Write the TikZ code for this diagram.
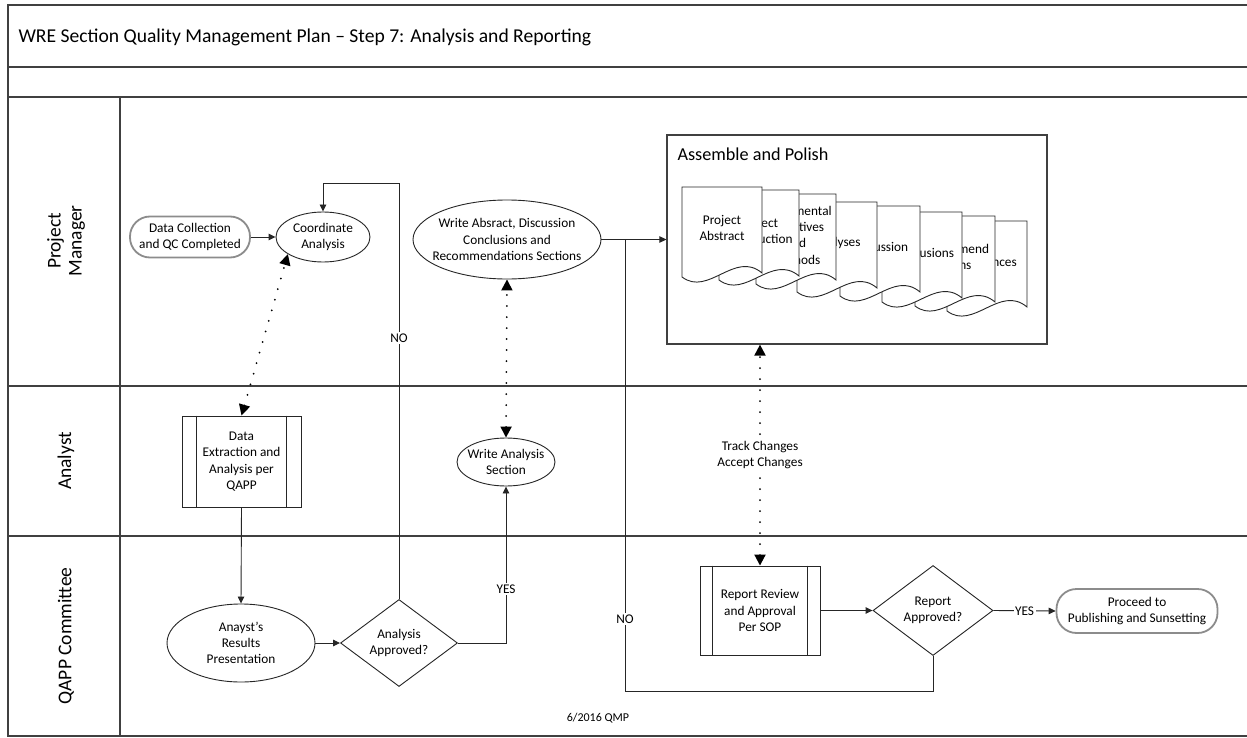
\documentclass[tikz,border=0pt]{standalone}
\usepackage{fontspec}
\setmainfont{Carlito}
\usetikzlibrary{shapes.geometric,arrows.meta,calc}

% One report page with a wavy lower edge: #1 left x, #2 top y, #3 width, #4 height, #5 name, #6 text
\newcommand\reportpage[6]{%
  \draw[pageline] (#1+#3,#2) -- (#1+#3,#2+#4-4)
    .. controls (#1+0.66*#3,#2+#4-27) and (#1+0.33*#3,#2+#4+20) .. (#1,#2+#4)
    -- (#1,#2) -- cycle;
  \node[pagetext, text width=#3-4pt] (#5) at (#1+0.5*#3,#2+41) {#6};
}

\begin{document}
\begin{tikzpicture}[x=1pt,y=-1pt,
  every node/.style={font=\fontsize{13.3}{16.3}\selectfont},
  lanerule/.style={draw=black!75, line width=1.3pt},
  box/.style={draw=black!85, line width=0.9pt, fill=white, align=center, inner sep=2pt},
  oval/.style={box, ellipse, inner ysep=0pt, inner xsep=-12pt},
  decision/.style={box, diamond, inner sep=0pt, aspect=1.35},
  terminal/.style={box, draw=black!45, line width=1.8pt, rounded corners=20pt},
  procbox/.style={box},
  pageline/.style={draw=black!85, line width=0.9pt, fill=white},
  pagetext/.style={align=center, inner sep=0pt},
  flow/.style={draw=black!85, line width=0.9pt, -{Triangle[length=7pt,width=6.5pt]}},
  link/.style={draw=black!85, line width=0.9pt},
  dotlink/.style={draw=black, line width=2pt, line cap=round, dash pattern=on 0pt off 11pt,
    {Triangle[length=11pt,width=11pt]}-{Triangle[length=11pt,width=11pt]}},
  tag/.style={fill=white, inner sep=1.5pt},
  lanelabel/.style={rotate=90, align=center, font=\fontsize{19.5}{21}\selectfont},
]
\useasboundingbox (0,0) rectangle (1247,738);
\fill[white] (0,0) rectangle (1247,738);

% frame, header rows and swimlanes
\draw[lanerule] (1247,5) -- (8,5) -- (8,736) -- (1247,736);
\draw[lanerule] (8,67) -- (1247,67);
\draw[lanerule] (8,97) -- (1247,97);
\draw[lanerule] (8,386) -- (1247,386);
\draw[lanerule] (8,536) -- (1247,536);
\draw[lanerule] (120,97) -- (120,736);

\node[anchor=west, font=\fontsize{19.6}{22}\selectfont] (title) at (15,37)
  {WRE Section Quality Management Plan -- Step 7: Analysis and Reporting};

\node[lanelabel] (lanePM) at (66,241) {Project\\Manager};
\node[lanelabel] (laneAN) at (66,461) {Analyst};
\node[lanelabel] (laneQC) at (66,636) {QAPP Committee};

% Project Manager lane
\node[terminal, minimum width=120pt, minimum height=41pt] (dcq) at (190,237)
  {Data Collection\\and QC Completed};
\node[oval, minimum width=94pt, minimum height=50pt] (coord) at (323,237)
  {Coordinate\\Analysis};
\node[oval, inner xsep=-25pt, minimum width=188pt, minimum height=79pt] (wabs) at (507,239.5)
  {Write Absract, Discussion\\Conclusions and\\Recommendations Sections};

% assembled report
\node[draw=black!75, line width=1.2pt, minimum width=380pt, minimum height=209pt,
  inner sep=0pt] (asm) at (857,239.5) {};
\node[anchor=west, font=\fontsize{18.2}{20}\selectfont] (asmtitle) at (674,154)
  {Assemble and Polish};

\reportpage{947}{221}{80}{90}{doc8}{References}
\reportpage{915}{216}{80}{90}{doc7}{Recommend\\ations}
\reportpage{882}{212}{80}{90}{doc6}{Conclusions}
\reportpage{840}{206}{80}{90}{doc5}{Discussion}
\reportpage{797}{202}{80}{90}{doc4}{Analyses}
\reportpage{756}{194}{80}{90}{doc3}{Experimental\\Objectives\\and\\Methods}
\reportpage{719}{190}{80}{90}{doc2}{Project\\Introduction}
\reportpage{682}{187}{80}{90}{doc1}{Project\\Abstract}

% Analyst lane
\node[procbox, minimum width=119pt, minimum height=91pt] (de) at (241.5,461.5)
  {Data\\Extraction and\\Analysis per\\QAPP};
\draw[link] ([xshift=15pt]de.north west) -- ([xshift=15pt]de.south west);
\draw[link] ([xshift=-15pt]de.north east) -- ([xshift=-15pt]de.south east);
\node[oval, minimum width=98pt, minimum height=48pt] (wa) at (506,462)
  {Write Analysis\\Section};

% QAPP Committee lane
\node[oval, minimum width=148pt, minimum height=78pt] (arp) at (241,643)
  {Anayst's\\Results\\Presentation};
\node[decision, minimum width=117pt, minimum height=87pt] (aa) at (399,643)
  {Analysis\\Approved?};
\node[procbox, minimum width=120pt, minimum height=89pt] (rr) at (760,610.5)
  {Report Review\\and Approval\\Per SOP};
\draw[link] ([xshift=13pt]rr.north west) -- ([xshift=13pt]rr.south west);
\draw[link] ([xshift=-13pt]rr.north east) -- ([xshift=-13pt]rr.south east);
\node[decision, minimum width=120pt, minimum height=90pt] (ra) at (933,610.5)
  {Report\\Approved?};
\node[terminal, minimum width=161pt, minimum height=44pt] (pub) at (1137,611)
  {Proceed to\\Publishing and Sunsetting};

\node[font=\fontsize{12}{14}\selectfont] (footer) at (598,718) {6/2016 QMP};

% connectors
\coordinate (loopTop) at (399,183);
\coordinate (retLow) at (625,691);

\draw[flow] (dcq.east) -- (coord.west);
\draw[flow] (aa.north) -- (loopTop) -| (coord.north);
\node[tag] (noA) at (399,338) {NO};

\draw[flow] (de.south) -- (arp.north);
\draw[flow] (arp.east) -- (aa.west);
\draw[flow] (aa.east) -| (wa.south);
\node[tag] (yesA) at (506,589) {YES};

\draw[link] (wabs.east) -- (wabs.east -| retLow);
\draw[flow] (ra.south) |- (retLow) |- (asm.west);
\node[tag] (noR) at (625,619) {NO};

\draw[flow] (rr.east) -- (ra.west);
\draw[flow] (ra.east) -- (pub.west) node[midway, tag] (yesR) {YES};

\draw[dotlink] (de.north) -- (coord.206);
\draw[dotlink] (wa.north) -- (wabs.south);
\draw[dotlink] (rr.north) -- (rr.north |- asm.south);
\node[tag, align=center] (track) at (760,455) {Track Changes\\Accept Changes};
\end{tikzpicture}
\end{document}
